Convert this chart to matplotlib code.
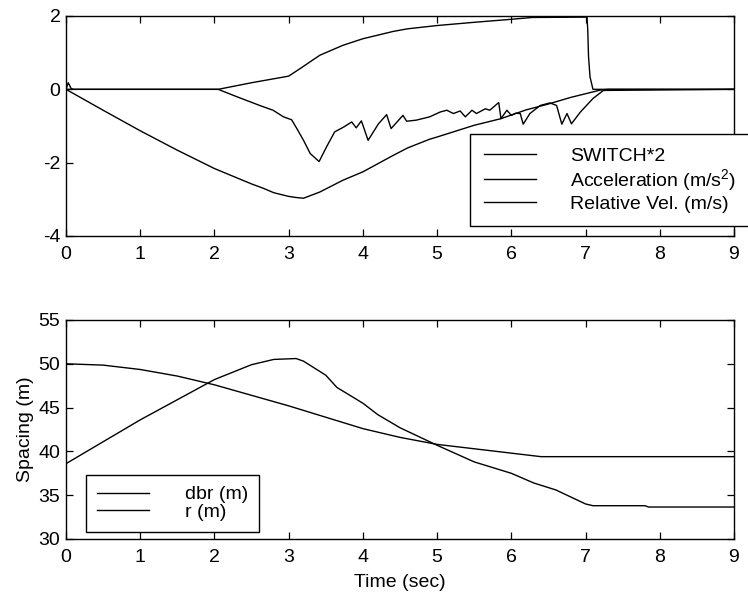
import matplotlib
matplotlib.use("Agg")
import matplotlib.pyplot as plt
from matplotlib.lines import Line2D

plt.rcParams["font.family"] = ["Liberation Sans", "DejaVu Sans"]
plt.rcParams["mathtext.fontset"] = "custom"
plt.rcParams["mathtext.rm"] = "Liberation Sans"
plt.rcParams["mathtext.it"] = "Liberation Sans:italic"
plt.rcParams["font.size"] = 14
plt.rcParams["axes.unicode_minus"] = False

# ---- top panel data ----
t_switch = [0, 2.05, 2.5, 3.0, 3.15, 3.42, 3.73, 4.0, 4.41, 4.6, 5.0, 5.51, 6.0, 6.28, 7.02, 7.03, 7.04, 7.06, 7.1, 9]
switch = [0, 0, 0.18, 0.36, 0.56, 0.93, 1.2, 1.38, 1.58, 1.65, 1.74, 1.83, 1.91, 1.96, 1.97, 1.6, 0.9, 0.34, 0, 0]

t_accel = [0, 0.03, 0.07, 0.1, 2.05, 2.3, 2.61, 2.79, 2.93, 3.04, 3.11, 3.2, 3.29, 3.41, 3.51, 3.62,
           3.74, 3.85, 3.91, 3.98, 4.07, 4.21, 4.32, 4.38, 4.54, 4.59, 4.72, 4.9, 5.04, 5.13, 5.22,
           5.31, 5.38, 5.47, 5.53, 5.65, 5.71, 5.83, 5.86, 5.94, 6.0, 6.06, 6.12, 6.16, 6.25, 6.39,
           6.52, 6.61, 6.68, 6.75, 6.81, 6.93, 7.1, 7.24, 9]
accel = [0, 0.18, 0.02, 0, 0, -0.2, -0.44, -0.57, -0.75, -0.83, -1.07, -1.39, -1.75, -1.97, -1.57, -1.16,
         -1.03, -0.89, -1.05, -0.86, -1.39, -0.94, -0.69, -1.07, -0.71, -0.87, -0.84, -0.75, -0.62, -0.57, -0.66,
         -0.59, -0.75, -0.57, -0.66, -0.53, -0.57, -0.36, -0.8, -0.57, -0.71, -0.65, -0.66, -0.95, -0.66, -0.44,
         -0.37, -0.44, -0.95, -0.66, -0.94, -0.62, -0.25, -0.03, 0]

t_relvel = [0, 0.5, 1, 1.5, 2, 2.5, 2.66, 2.8, 3.0, 3.1, 3.2, 3.42, 3.73, 4.0, 4.41, 4.6, 4.9, 5.0,
            5.5, 5.86, 6.2, 6.5, 6.8, 7.0, 7.2, 7.3, 9]
relvel = [0, -0.57, -1.13, -1.66, -2.16, -2.58, -2.7, -2.82, -2.92, -2.95, -2.97, -2.8, -2.48, -2.25, -1.8, -1.6, -1.36, -1.3,
          -0.98, -0.8, -0.56, -0.4, -0.22, -0.12, -0.02, 0, 0]

top_labels = ["SWITCH*2", "Acceleration (m/s$^2$)", "Relative Vel. (m/s)"]

# ---- bottom panel data ----
t_dbr = [0, 0.5, 1, 1.5, 2, 2.5, 3, 3.5, 4, 4.5, 5, 5.5, 6, 6.4, 9]
dbr = [50, 49.85, 49.35, 48.6, 47.6, 46.4, 45.2, 43.9, 42.6, 41.6, 40.8, 40.3, 39.8, 39.4, 39.4]

t_r = [0, 0.5, 1, 1.5, 2, 2.5, 2.8, 3.1, 3.2, 3.5, 3.65, 4, 4.2, 4.5, 5, 5.5, 6, 6.3, 6.6, 7,
       7.1, 7.8, 7.85, 9]
r = [38.6, 41.1, 43.6, 45.9, 48.2, 49.9, 50.5, 50.6, 50.3, 48.7, 47.3, 45.5, 44.2, 42.7, 40.7, 38.8,
     37.5, 36.4, 35.6, 34.0, 33.8, 33.8, 33.65, 33.65]

bottom_labels = ["dbr (m)", "r (m)"]

lw = 1.0
fig = plt.figure(figsize=(7.48, 5.98), dpi=100)

ax1 = fig.add_axes([66 / 748, 1 - 236 / 598, 668 / 748, 220 / 598])
ax1.plot(t_switch, switch, color="black", lw=lw)
ax1.plot(t_accel, accel, color="black", lw=lw)
ax1.plot(t_relvel, relvel, color="black", lw=lw)
ax1.set_xlim(0, 9)
ax1.set_ylim(-4, 2)
ax1.set_xticks(range(10))
ax1.set_yticks([-4, -2, 0, 2])

ax2 = fig.add_axes([66 / 748, 1 - 539 / 598, 668 / 748, 219 / 598])
ax2.plot(t_dbr, dbr, color="black", lw=lw)
ax2.plot(t_r, r, color="black", lw=lw)
ax2.set_xlim(0, 9)
ax2.set_ylim(30, 55)
ax2.set_xticks(range(10))
ax2.set_yticks(range(30, 56, 5))
ax2.set_xlabel("Time (sec)", labelpad=6)
ax2.set_ylabel("Spacing (m)", labelpad=3)

for ax in (ax1, ax2):
    ax.tick_params(direction="in", top=True, right=True, length=5, width=0.9, labelsize=14)
    ax.tick_params(axis="x", pad=7)
    ax.tick_params(axis="y", pad=4)
    for s in ax.spines.values():
        s.set_linewidth(1.0)

handles = [Line2D([], [], color="black", lw=lw) for _ in top_labels]
fig.legend(handles, top_labels, loc="upper left",
           bbox_to_anchor=(470 / 748, 1 - 134 / 598), frameon=True, fancybox=False,
           edgecolor="black", framealpha=1, borderaxespad=0, handlelength=2.7,
           handletextpad=1.75, labelspacing=0.1, borderpad=0.7, fontsize=14)

handles2 = [Line2D([], [], color="black", lw=lw) for _ in bottom_labels]
fig.legend(handles2, bottom_labels, loc="upper left",
           bbox_to_anchor=(86 / 748, 1 - 475 / 598), frameon=True, fancybox=False,
           edgecolor="black", framealpha=1, borderaxespad=0, handlelength=2.7,
           handletextpad=1.85, labelspacing=0.0, borderpad=0.55, fontsize=14)

fig.savefig("out.png", dpi=100)
